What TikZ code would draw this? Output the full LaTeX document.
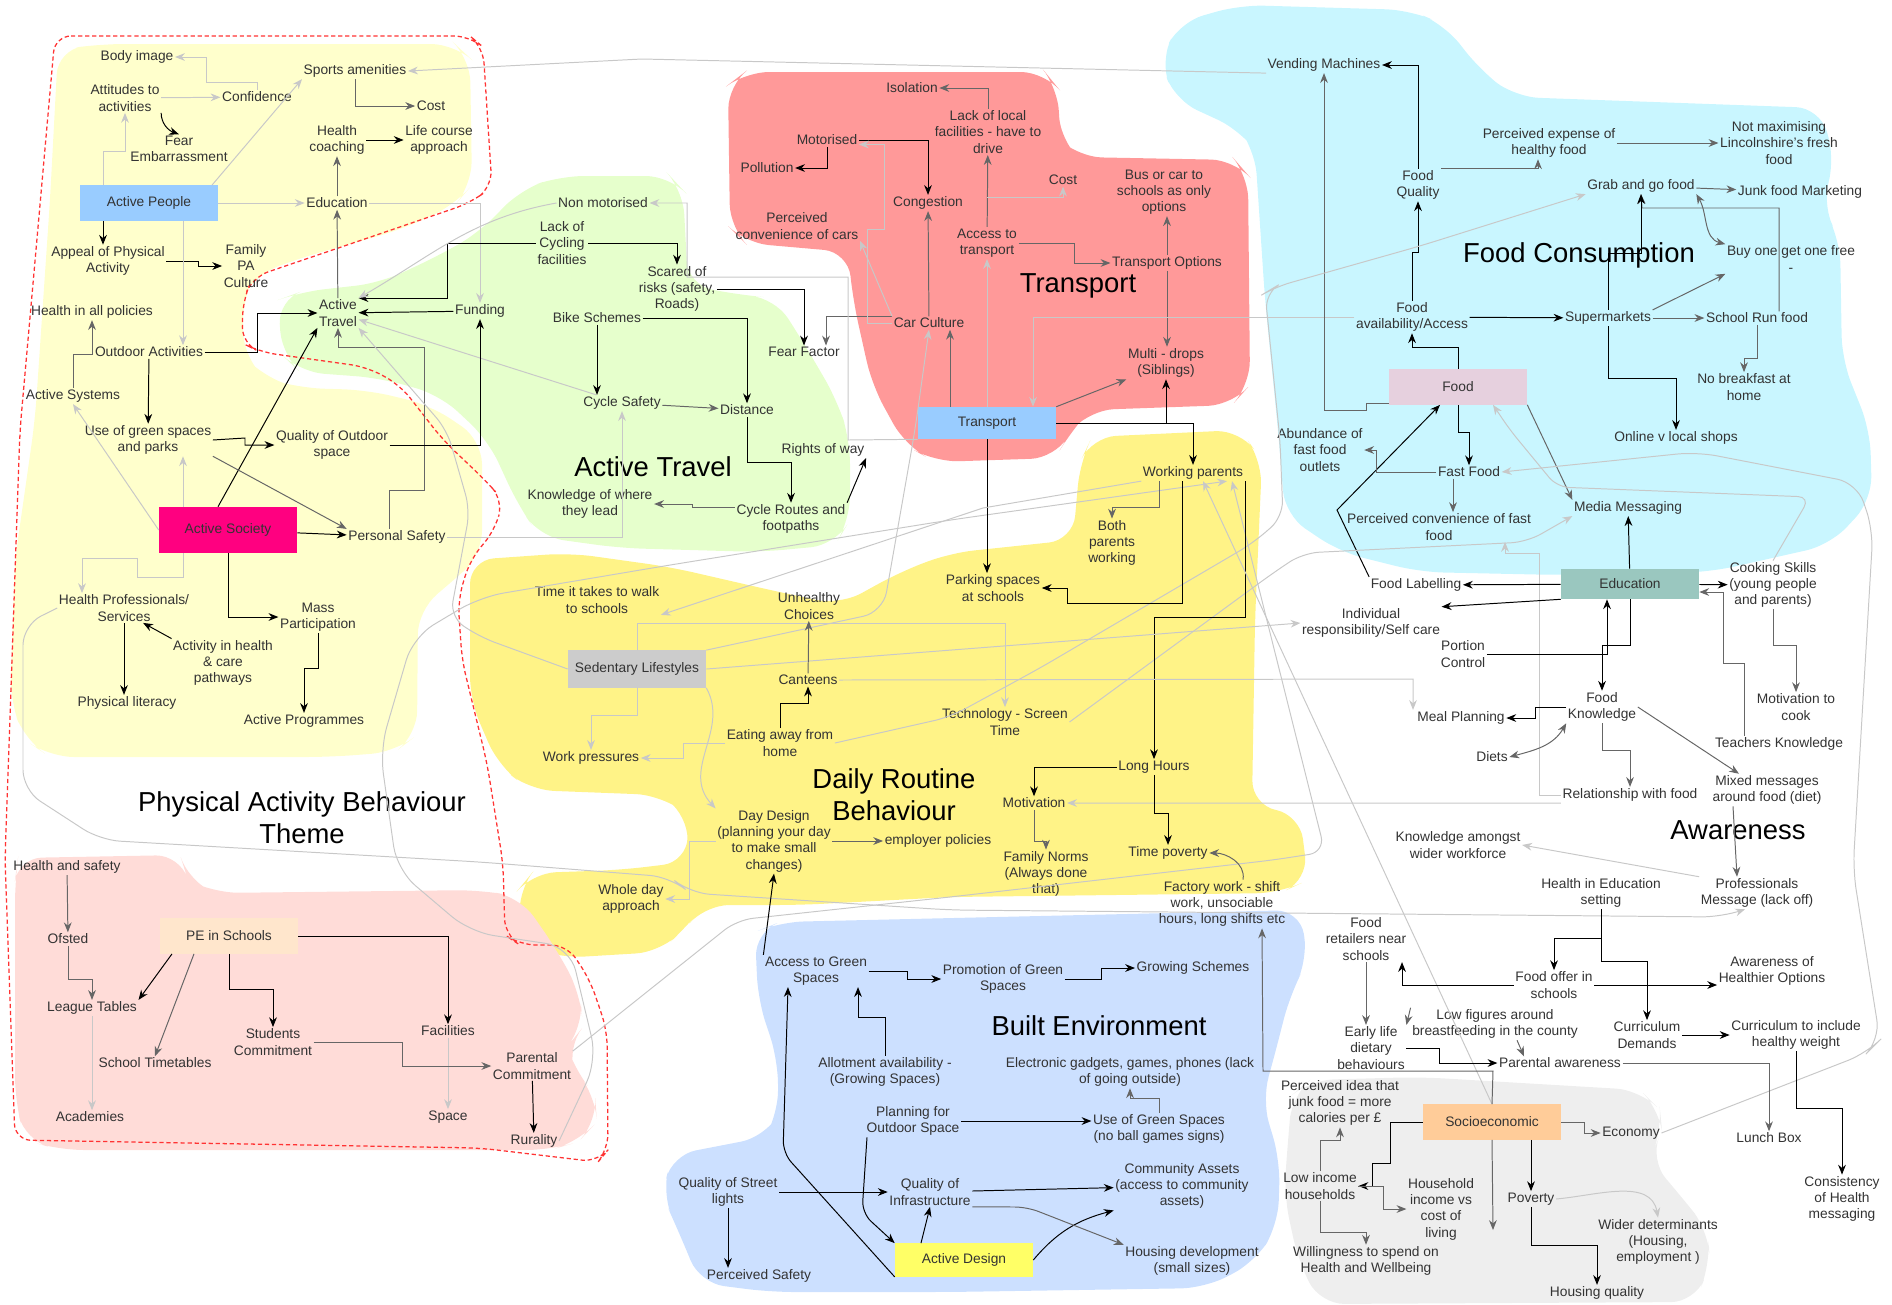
\documentclass[tikz,border=0pt]{standalone}
\usepackage{fontspec}
\setmainfont{Liberation Sans}
\usetikzlibrary{arrows.meta}
\definecolor{paback}{HTML}{FFFFCC}
\definecolor{atback}{HTML}{E6FFCC}
\definecolor{trback}{HTML}{FF9999}
\definecolor{fcback}{HTML}{C9F6FF}
\definecolor{drback}{HTML}{FFF387}
\definecolor{beback}{HTML}{CCE0FF}
\definecolor{peback}{HTML}{FFDCD8}
\definecolor{seback}{HTML}{EEEEEE}
\definecolor{fillblue}{HTML}{99CCFF}
\definecolor{fillpink}{HTML}{FF0080}
\definecolor{fillgrey}{HTML}{CCCCCC}
\definecolor{fillfood}{HTML}{E6D0DE}
\definecolor{filledu}{HTML}{9AC7BF}
\definecolor{fillpe}{HTML}{FFE6CC}
\definecolor{filldesign}{HTML}{FFFF66}
\definecolor{fillsocio}{HTML}{FFCC99}
\definecolor{darkline}{HTML}{666666}
\definecolor{lightline}{HTML}{C8C8C8}
\definecolor{borderred}{HTML}{FF3333}
\newcommand{\boxwidth}{3.45cm}
\newcommand{\lblfont}{\fontsize{9.8}{11.6}\selectfont}
\newcommand{\themefont}{\fontsize{19.5}{22.5}\selectfont}
\tikzset{
    lbl/.style = { align=center, inner sep=1pt,
        font=\lblfont, text=black!80
    },
    theme/.style = { align=center, inner sep=0pt,
        font=\themefont
    },
    cbox/.style = { rectangle, align=center,
        minimum width = \boxwidth,
        minimum height = 0.88cm,
        font=\lblfont, text=black!80
    },
    blob/.style = { rounded corners=0.6cm },
    region/.style = { draw=borderred, dash pattern=on 3pt off 2pt,
        line width=0.9pt, rounded corners=0.4cm
    },
    blk/.style = { draw=black, line width=0.7pt,
        -{Stealth[length=7pt,width=5.5pt]}
    },
    dgr/.style = { draw=darkline, line width=0.7pt,
        -{Stealth[length=7pt,width=5.5pt]}
    },
    lgr/.style = { draw=lightline, line width=0.7pt,
        -{Stealth[length=7pt,width=5.5pt]}
    },
    bidir/.style = { {Stealth[length=7pt,width=5.5pt]}-{Stealth[length=7pt,width=5.5pt]} }
}
\begin{document}
\begin{tikzpicture}[x=0.025cm, y=-0.025cm]
        \useasboundingbox (0,0) rectangle (1892,1304);

        % background blobs...
        \fill[paback, blob] (58,50) -- (100,44) -- (455,44) -- (470,58) -- (472,185) -- (455,205) -- (400,230) -- (300,258) -- (255,275) -- (243,295) -- (243,355) -- (265,378) -- (300,388) -- (367,390) -- (430,405) -- (482,440) -- (482,555) -- (440,592) -- (418,610) -- (417,735) -- (395,752) -- (330,757) -- (50,757) -- (25,740) -- (10,700) -- (15,560) -- (35,420) -- (50,200) -- cycle;
        \fill[atback, blob] (278,300) -- (300,292) -- (380,283) -- (440,255) -- (480,232) -- (520,190) -- (560,176) -- (670,176) -- (683,190) -- (688,285) -- (740,295) -- (775,298) -- (805,345) -- (837,400) -- (850,440) -- (850,520) -- (835,545) -- (760,552) -- (620,548) -- (540,537) -- (518,505) -- (488,440) -- (440,395) -- (380,378) -- (300,372) -- (282,355) -- cycle;
        \fill[trback, blob] (728,85) -- (745,72) -- (1045,72) -- (1058,88) -- (1060,140) -- (1078,157) -- (1235,160) -- (1248,175) -- (1250,385) -- (1232,405) -- (1090,410) -- (1072,430) -- (1055,458) -- (935,462) -- (905,445) -- (872,385) -- (853,300) -- (848,252) -- (745,243) -- (730,228) -- cycle;
        \fill[fcback, blob] (1160,60) -- (1180,22) -- (1240,5) -- (1410,10) -- (1445,25) -- (1480,70) -- (1515,97) -- (1820,108) -- (1835,160) -- (1822,205) -- (1840,240) -- (1842,360) -- (1870,430) -- (1872,500) -- (1830,545) -- (1710,572) -- (1560,575) -- (1420,572) -- (1340,552) -- (1285,515) -- (1278,430) -- (1265,300) -- (1255,150) -- (1240,130) -- (1175,100) -- cycle;
        \fill[drback, blob] (470,560) -- (570,553) -- (670,567) -- (770,590) -- (840,605) -- (900,572) -- (950,553) -- (1073,540) -- (1080,462) -- (1092,437) -- (1240,430) -- (1262,460) -- (1255,620) -- (1252,805) -- (1300,815) -- (1308,880) -- (1280,893) -- (950,897) -- (800,905) -- (705,905) -- (688,925) -- (660,952) -- (560,958) -- (522,945) -- (518,890) -- (532,873) -- (620,870) -- (687,862) -- (688,815) -- (660,795) -- (530,790) -- (498,765) -- (470,700) -- cycle;
        \fill[beback, blob] (755,932) -- (780,922) -- (1300,910) -- (1308,960) -- (1290,995) -- (1272,1065) -- (1262,1100) -- (1280,1160) -- (1278,1225) -- (1255,1262) -- (1205,1288) -- (950,1292) -- (770,1292) -- (700,1283) -- (678,1230) -- (662,1195) -- (672,1155) -- (765,1137) -- (778,1115) -- (778,1060) -- (758,1000) -- cycle;
        \fill[peback, blob] (18,858) -- (180,855) -- (188,880) -- (215,893) -- (480,890) -- (520,897) -- (557,950) -- (580,993) -- (583,1027) -- (567,1047) -- (573,1067) -- (595,1095) -- (597,1122) -- (578,1142) -- (550,1150) -- (60,1150) -- (25,1140) -- (15,1100) -- (15,880) -- cycle;
        \fill[seback, blob] (1288,1140) -- (1292,1095) -- (1310,1080) -- (1420,1077) -- (1640,1090) -- (1660,1110) -- (1662,1130) -- (1650,1160) -- (1680,1195) -- (1708,1230) -- (1710,1265) -- (1695,1302) -- (1320,1304) -- (1298,1260) -- (1284,1195) -- cycle;

        % theme border...
        \draw[region] (55,36) -- (470,36) -- (483,47) -- (492,187) -- (470,203) -- (353,243) -- (253,277) -- (243,300) -- (242,343) -- (260,352) -- (367,367) -- (400,385) -- (443,440) -- (485,480) -- (503,500) -- (495,530) -- (470,560) -- (458,600) -- (462,660) -- (487,763) -- (503,863) -- (505,935) -- (520,945) -- (567,945) -- (590,980) -- (607,1030) -- (608,1150) -- (598,1162) -- (480,1148) -- (15,1140) -- (5,860) -- (20,430) -- cycle;

        % titles...
        \node[theme] (patitle) at (302,818) {Physical Activity Behaviour\\Theme};
        \node[theme] (attitle) at (653,467) {Active Travel};
        \node[theme] (trtitle) at (1078,286) {Transport};
        \node[theme] (fctitle) at (1579,255) {Food Consumption};
        \node[theme] (drtitle) at (894,795) {Daily Routine\\Behaviour};
        \node[theme] (betitle) at (1099,1026) {Built Environment};
        \node[theme] (awtitle) at (1738,830) {Awareness};

        % physical activity nodes...
        \node[lbl] (body) at (137,57) {Body image};
        \node[lbl] (sports) at (355,71) {Sports amenities};
        \node[lbl] (attit) at (125,98) {Attitudes to\\activities};
        \node[lbl] (conf) at (257,97) {Confidence};
        \node[lbl] (pacost) at (431,106) {Cost};
        \node[lbl] (fear) at (179,149) {Fear\\Embarrassment};
        \node[lbl] (coach) at (337,140) {Health\\coaching};
        \node[lbl] (life) at (439,140) {Life course\\approach};
        \node[cbox, fill=fillblue] (actpeople) at (149,203) {Active People};
        \node[lbl] (paedu) at (337,203) {Education};
        \node[lbl] (appeal) at (108,261) {Appeal of Physical\\Activity};
        \node[lbl] (family) at (246,266) {Family\\PA\\Culture};
        \node[lbl] (hiap) at (92,312) {Health in all policies};
        \node[lbl] (acttravel) at (338,313) {Active\\Travel};
        \node[lbl] (funding) at (480,311) {Funding};
        \node[lbl] (outdoor) at (149,352) {Outdoor Activities};
        \node[lbl] (actsys) at (73,396) {Active Systems};
        \node[lbl] (green) at (148,440) {Use of green spaces\\and parks};
        \node[lbl] (qoutdoor) at (332,445) {Quality of Outdoor\\space};
        \node[cbox, fill=fillpink, minimum height=1.15cm] (actsoc) at (228,530) {Active Society};
        \node[lbl] (persafe) at (397,537) {Personal Safety};
        \node[lbl] (hprof) at (124,608) {Health Professionals/\\Services};
        \node[lbl] (mass) at (318,617) {Mass\\Participation};
        \node[lbl] (pathways) at (223,663) {Activity in health\\\& care\\pathways};
        \node[lbl] (literacy) at (127,703) {Physical literacy};
        \node[lbl] (actprog) at (304,721) {Active Programmes};

        % pe in schools nodes...
        \node[lbl] (hsafety) at (67,867) {Health and safety};
        \node[lbl] (ofsted) at (68,939) {Ofsted};
        \node[cbox, fill=fillpe] (pebox) at (229,936) {PE in Schools};
        \node[lbl] (league) at (92,1008) {League Tables};
        \node[lbl] (timetab) at (155,1063) {School Timetables};
        \node[lbl] (students) at (273,1042) {Students\\Commitment};
        \node[lbl] (facil) at (448,1031) {Facilities};
        \node[lbl] (academ) at (90,1117) {Academies};
        \node[lbl] (space) at (448,1117) {Space};
        \node[lbl] (parental) at (532,1066) {Parental\\Commitment};
        \node[lbl] (rural) at (534,1141) {Rurality};

        % active travel nodes...
        \node[lbl] (nonmot) at (603,203) {Non motorised};
        \node[lbl] (lackcyc) at (562,243) {Lack of\\Cycling\\facilities};
        \node[lbl] (scared) at (677,289) {Scared of\\risks (safety,\\Roads)};
        \node[lbl] (bike) at (597,318) {Bike Schemes};
        \node[lbl] (fearf) at (804,352) {Fear Factor};
        \node[lbl] (cycsafe) at (622,403) {Cycle Safety};
        \node[lbl] (distance) at (747,410) {Distance};
        \node[lbl] (rights) at (823,450) {Rights of way};
        \node[lbl] (knowwhere) at (590,504) {Knowledge of where\\they lead};
        \node[lbl] (routes) at (791,519) {Cycle Routes and\\footpaths};

        % transport nodes...
        \node[lbl] (isol) at (912,88) {Isolation};
        \node[lbl] (motor) at (827,140) {Motorised};
        \node[lbl] (poll) at (767,168) {Pollution};
        \node[lbl] (lacklocal) at (988,132) {Lack of local\\facilities - have to\\drive};
        \node[lbl] (trcost) at (1063,180) {Cost};
        \node[lbl] (buscar) at (1164,192) {Bus or car to\\schools as only\\options};
        \node[lbl] (congest) at (928,203) {Congestion};
        \node[lbl] (percars) at (797,226) {Perceived\\convenience of cars};
        \node[lbl] (access) at (987,243) {Access to\\transport};
        \node[lbl] (tropt) at (1167,263) {Transport Options};
        \node[lbl] (carcult) at (929,323) {Car Culture};
        \node[lbl] (multi) at (1166,363) {Multi - drops\\(Siblings)};
        \node[cbox, fill=fillblue, minimum height=0.8cm] (trbox) at (987,423) {Transport};

        % food consumption nodes...
        \node[lbl] (vending) at (1324,65) {Vending Machines};
        \node[lbl] (foodq) at (1418,185) {Food\\Quality};
        \node[lbl] (expense) at (1549,143) {Perceived expense of\\healthy food};
        \node[lbl] (notmax) at (1779,143) {Not maximising\\Lincolnshire's fresh\\food};
        \node[lbl] (grab) at (1641,186) {Grab and go food};
        \node[lbl] (junk) at (1800,192) {Junk food Marketing};
        \node[lbl] (bogof) at (1791,259) {Buy one get one free\\-};
        \node[lbl] (foodavail) at (1412,317) {Food\\availability/Access};
        \node[lbl] (superm) at (1608,318) {Supermarkets};
        \node[lbl] (schoolrun) at (1757,318) {School Run food};
        \node[lbl] (nobreak) at (1744,387) {No breakfast at\\home};
        \node[cbox, fill=fillfood] (foodbox) at (1458,387) {Food};
        \node[lbl] (online) at (1676,438) {Online v local shops};
        \node[lbl] (abund) at (1320,450) {Abundance of\\fast food\\outlets};
        \node[lbl] (fastfood) at (1469,472) {Fast Food};
        \node[lbl] (media) at (1628,508) {Media Messaging};
        \node[lbl] (perfast) at (1439,527) {Perceived convenience of fast\\food};

        % awareness nodes...
        \node[lbl] (flabel) at (1416,585) {Food Labelling};
        \node[cbox, fill=filledu, minimum height=0.75cm] (edubox) at (1630,584) {Education};
        \node[lbl] (cooking) at (1773,585) {Cooking Skills\\(young people\\and parents)};
        \node[lbl] (indiv) at (1371,623) {Individual\\responsibility/Self care};
        \node[lbl] (portion) at (1463,654) {Portion\\Control};
        \node[lbl] (foodknow) at (1602,707) {Food\\Knowledge};
        \node[lbl] (meal) at (1461,718) {Meal Planning};
        \node[lbl] (motcook) at (1796,707) {Motivation to\\cook};
        \node[lbl] (teachers) at (1779,744) {Teachers Knowledge};
        \node[lbl] (diets) at (1492,757) {Diets};
        \node[lbl] (relation) at (1630,795) {Relationship with food};
        \node[lbl] (mixed) at (1767,790) {Mixed messages\\around food (diet)};
        \node[lbl] (knowwork) at (1458,845) {Knowledge amongst\\wider workforce};
        \node[lbl] (hiedu) at (1601,893) {Health in Education\\setting};
        \node[lbl] (profmsg) at (1757,893) {Professionals\\Message (lack off)};
        \node[lbl] (retailers) at (1366,939) {Food\\retailers near\\schools};
        \node[lbl] (foodoffer) at (1554,985) {Food offer in\\schools};
        \node[lbl] (awhealthy) at (1772,971) {Awareness of\\Healthier Options};
        \node[lbl] (lowfig) at (1495,1024) {Low figures around\\breastfeeding in the county};
        \node[lbl] (earlylife) at (1371,1048) {Early life\\dietary\\behaviours};
        \node[lbl] (currdem) at (1647,1035) {Curriculum\\Demands};
        \node[lbl] (currinc) at (1796,1035) {Curriculum to include\\healthy weight};
        \node[lbl] (parentaw) at (1560,1063) {Parental awareness};

        % socioeconomic nodes...
        \node[lbl] (perjunk) at (1340,1103) {Perceived idea that\\junk food = more\\calories per £};
        \node[cbox, fill=fillsocio] (sebox) at (1492,1122) {Socioeconomic};
        \node[lbl] (economy) at (1631,1133) {Economy};
        \node[lbl] (lunch) at (1769,1138) {Lunch Box};
        \node[lbl] (lowinc) at (1320,1186) {Low income\\households};
        \node[lbl] (household) at (1441,1209) {Household\\income vs\\cost of\\living};
        \node[lbl] (poverty) at (1531,1199) {Poverty};
        \node[lbl] (consist) at (1842,1199) {Consistency\\of Health\\messaging};
        \node[lbl] (wider) at (1658,1242) {Wider determinants\\(Housing,\\employment )};
        \node[lbl] (willing) at (1366,1261) {Willingness to spend on\\Health and Wellbeing};
        \node[lbl] (housingq) at (1597,1293) {Housing quality};
        \coordinate (sedown) at (1493,1230);

        % daily routine nodes...
        \node[lbl] (walk) at (597,600) {Time it takes to walk\\to schools};
        \node[lbl] (unhealthy) at (809,606) {Unhealthy\\Choices};
        \node[cbox, fill=fillgrey, minimum height=0.93cm] (sedbox) at (637,669) {Sedentary Lifestyles};
        \node[lbl] (canteens) at (808,680) {Canteens};
        \node[lbl] (workpress) at (591,758) {Work pressures};
        \node[lbl] (eating) at (780,743) {Eating away from\\home};
        \node[lbl] (daydesign) at (774,841) {Day Design\\(planning your day\\to make small\\changes)};
        \node[lbl] (employer) at (938,841) {employer policies};
        \node[lbl] (wholeday) at (631,899) {Whole day\\approach};
        \node[lbl] (wparents) at (1193,473) {Working parents};
        \node[lbl] (bothpar) at (1112,543) {Both\\parents\\working};
        \node[lbl] (parking) at (993,588) {Parking spaces\\at schools};
        \node[lbl] (tech) at (1005,722) {Technology - Screen\\Time};
        \node[lbl] (longh) at (1154,767) {Long Hours};
        \node[lbl] (motiv) at (1034,803) {Motivation};
        \node[lbl] (timepov) at (1168,853) {Time poverty};
        \node[lbl] (famnorms) at (1046,874) {Family Norms\\(Always done\\that)};
        \node[lbl] (factory) at (1222,904) {Factory work - shift\\work, unsociable\\hours, long shifts etc};

        % built environment nodes...
        \node[lbl] (accgreen) at (816,971) {Access to Green\\Spaces};
        \node[lbl] (promo) at (1003,979) {Promotion of Green\\Spaces};
        \node[lbl] (growing) at (1193,968) {Growing Schemes};
        \node[lbl] (allot) at (885,1072) {Allotment availability -\\(Growing Spaces)};
        \node[lbl] (gadgets) at (1130,1072) {Electronic gadgets, games, phones (lack\\of going outside)};
        \node[lbl] (planning) at (913,1121) {Planning for\\Outdoor Space};
        \node[lbl] (usegreen) at (1159,1129) {Use of Green Spaces\\(no ball games signs)};
        \node[lbl] (qstreet) at (728,1192) {Quality of Street\\lights};
        \node[lbl] (qinfra) at (930,1192) {Quality of\\Infrastructure};
        \node[lbl] (community) at (1182,1186) {Community Assets\\(access to community\\assets)};
        \node[lbl] (housingdev) at (1192,1261) {Housing development\\(small sizes)};
        \node[lbl] (psafety) at (759,1276) {Perceived Safety};
        \node[cbox, fill=filldesign, minimum height=0.83cm] (adbox) at (964,1260) {Active Design};

        % physical activity arrows...
        \draw[lgr] (conf.north) |- (206,82) |- (body);
        \draw[lgr] (attit) -- (conf);
        \draw[blk] (attit.south east) to[out=-90,in=160] (fear.north);
        \draw[lgr] (103,0 |- actpeople.north) -- (103,151) -| (attit.south);
        \draw[lgr] (212,0 |- actpeople.north) -- (sports.south west);
        \draw[dgr] (sports.south) |- (pacost.west);
        \draw[blk] (coach) -- (life);
        \draw[dgr] (paedu) -- (coach);
        \draw[lgr] (actpeople) -- (paedu);
        \draw[lgr] (paedu.east) -| (funding.north);
        \draw[blk] (103,0 |- actpeople.south) -- (103,0 |- appeal.north);
        \draw[blk] (appeal.east) -- (198,261) |- (family.west);
        \draw[lgr] (183,0 |- actpeople.south) -- (183,0 |- outdoor.north);
        \draw[dgr] (acttravel) -- (paedu);
        \draw[blk] (outdoor.east) -- (257,352) |- (acttravel.west);
        \draw[dgr] (actsys.north) -- (73,354) -| (hiap.south);
        \draw[blk] (outdoor) -- (green);
        \draw[blk] (lackcyc.west) -- (447,243) |- (acttravel.north east);
        \draw[blk] (funding) -- (acttravel);
        \draw[lgr] (cycsafe) -- (acttravel);
        \draw[lgr] (nonmot.west) to[out=190,in=30] (acttravel.north east);
        \draw[dgr] (389,0 |- persafe.north) -- (389,490) -- (424,490) -- (424,347) -| (acttravel.south);
        \draw[blk] (qoutdoor.east) -| (funding.south);
        \draw[blk] (218,0 |- actsoc.north) -- (acttravel.south west);
        \draw[blk] (green.east) -- (245,438) |- (qoutdoor.west);
        \draw[dgr] (green.south east) -- (persafe.north west);
        \draw[blk] (actsoc) -- (persafe);
        \draw[lgr] (actsoc.west) -- (actsys.south);
        \draw[lgr] (183,0 |- actsoc.north) -- (183,0 |- green.south);
        \draw[lgr] (183,0 |- actsoc.south) -- (183,577) -- (137,577) -- (137,558) -| (82,0 |- hprof.north);
        \draw[blk] (actsoc.south) |- (mass.west);
        \draw[blk] (mass.south) -- (318,668) -| (actprog.north);
        \draw[blk] (hprof.south) -- (hprof.south |- literacy.north);
        \draw[blk] (pathways.north west) -- (hprof.-38);
        \draw[lgr, rounded corners=0.5cm] (hprof.west) -- (23,625) -- (23,790) -- (100,840) -- (480,862) -- (670,877) -- (690,893) -- (950,910) -- (1722,917) -- (1745,0 |- profmsg.south);

        % pe in schools arrows...
        \draw[dgr] (hsafety) -- (ofsted);
        \draw[dgr] (ofsted.south) -- (68,979) -| (league.north);
        \draw[blk] (172,0 |- pebox.south) -- (league.north east);
        \draw[dgr] (194,0 |- pebox.south) -- (timetab.north);
        \draw[blk] (pebox.south) -- (229,989) -| (students.north);
        \draw[blk] (pebox.east) -| (facil.north);
        \draw[lgr] (league.south) -- (league.south |- academ.north);
        \draw[lgr] (facil) -- (space);
        \draw[dgr] (students.east) -- (402,1042) |- (parental.west);
        \draw[blk] (parental) -- (rural);
        \draw[lgr, rounded corners=0.6cm] (rural.east) -- (597,1060) -- (570,947) -- (470,932) -- (397,870) -- (380,750) -- (413,637) -- (480,597) -- (670,565) -- (950,520) -- (1227,0 |- wparents.south);
        \draw[lgr, rounded corners=0.4cm] (parental.north east) -- (737,920) -- (950,897) -- (1273,860) -- (1325,852) -- (1232,0 |- wparents.south);

        % active travel arrows...
        \draw[blk] (lackcyc.east) -| (scared.north);
        \draw[blk] (scared.east) -| (fearf.north);
        \draw[dgr] (carcult.north west) -| (826,0 |- fearf.north);
        \draw[blk] (bike.south) -- (bike.south |- cycsafe.north);
        \draw[blk] (bike.east) -| (distance.north);
        \draw[dgr] (cycsafe) -- (distance);
        \draw[blk] (distance.south) -- (747,462) -| (routes.north);
        \draw[blk] (routes.north east) -- (rights.south east);
        \draw[dgr] (routes.west |- 0,507) -- (692,507) |- (knowwhere.east);
        \draw[lgr] (persafe.east) -| (cycsafe.south);
        \draw[lgr] (trbox.south west) -- (848,440) -- (848,277) -- (687,277) |- (nonmot.east);

        % transport arrows...
        \draw[blk] (motor.south) |- (poll.east);
        \draw[blk] (motor.east) -| (congest.north);
        \draw[lgr] (carcult.west) -- (867,323) -- (867,229) -- (884,229) |- (motor.-8);
        \draw[lgr] (carcult.north west) -- (percars.south east);
        \draw[dgr] (carcult) -- (congest);
        \draw[dgr] (950,0 |- trbox.north) -- (950,0 |- carcult.south);
        \draw[lgr] (trbox) -- (access);
        \draw[dgr] (access) -- (lacklocal);
        \draw[dgr] (lacklocal.north) |- (isol.east);
        \draw[lgr] (access.north |- 0,197) -| (trcost.south);
        \draw[dgr] (access.east) -- (1074,243) |- (tropt.west);
        \draw[dgr] (tropt.north) -- (tropt.north |- buscar.south);
        \draw[dgr] (tropt.south) -- (tropt.south |- multi.north);
        \draw[dgr] (trbox.north east) -- (multi.south west);
        \draw[blk] (trbox.east) -| (multi.south);
        \draw[blk] (trbox.east) -| (wparents.north);
        \draw[blk] (trbox.south) -- (trbox.south |- parking.north);
        \draw[lgr] (foodavail.west) -| (1033,0 |- trbox.north);
        \draw[lgr] (vending.south west) -- (642,59) -- (sports.east);

        % food consumption arrows...
        \draw[blk] (foodq.north) |- (vending.east);
        \draw[dgr] (foodbox.west |- 0,403) -- (1366,403) -- (1366,410) -| (vending.south);
        \draw[dgr] (foodq.north east) -- (1538,0 |- foodq.north east) -- (1538,0 |- expense.south);
        \draw[dgr] (expense) -- (notmax);
        \draw[dgr] (grab) -- (junk);
        \draw[dgr, bidir] (grab.south east) to[out=-60,in=165] (bogof.north west);
        \draw[dgr] (1779,0 |- schoolrun.north) |- (1642,208) -- (grab.south);
        \draw[blk] (superm.north) -- (1608,253) -| (grab.south);
        \draw[dgr] (superm.north east) -- (bogof.south west);
        \draw[dgr] (superm) -- (schoolrun);
        \draw[blk] (superm.south) -- (1608,378) -| (online.north);
        \draw[dgr] (schoolrun.south) -- (1757,358) -| (nobreak.north);
        \draw[blk] (foodavail) -- (superm);
        \draw[blk] (foodavail.north) -- (1412,252) -| (foodq.south);
        \draw[blk] (foodbox.north) -- (1458,347) -| (foodavail.south);
        \draw[blk] (foodbox.south) -- (1458,432) -| (fastfood.north);
        \draw[dgr] (foodbox.south east) -- (media.north west);
        \draw[blk] (flabel.north west) -- (1337,510) -- (1440,0 |- foodbox.south);
        \draw[lgr, rounded corners=0.3cm] (cooking.north) -- (1810,497) -- (1557,487) -- (1510,430) -- (1493,0 |- foodbox.south);
        \draw[dgr] (fastfood.west) -- (1376,472) |- (abund.east);
        \draw[dgr] (1453,0 |- fastfood.south) -- (1453,0 |- perfast.north);
        \draw[lgr, rounded corners=0.5cm] (economy.east) -- (1867,1053) -- (1880,1040) -- (1853,870) -- (1873,530) -- (1857,483) -- (1697,452) -- (fastfood.east);
        \draw[lgr] (relation.west) -- (1539,795) -- (1539,553) -- (1505,553) -- (1505,0 |- perfast.south);
        \draw[lgr] (relation.south west) -- (motiv.east);
        \draw[lgr, rounded corners=0.4cm] (tech.east) -- (1273,573) -- (1303,553) -- (1527,542) -- (media.south west);
        \draw[lgr, rounded corners=0.4cm] (eating.east) -- (950,717) -- (1040,668) -- (1253,543) -- (1283,517) -- (1280,440) -- (1265,293) -- (1275,287) -- (1420,246) -- (grab.south west);

        % daily routine arrows...
        \draw[dgr] (1159,0 |- wparents.south) -- (1159,507) -| (bothpar.north);
        \draw[blk] (1182,0 |- wparents.south) -- (1182,603) -- (1067,603) |- (parking.east);
        \draw[blk] (1245,0 |- wparents.south) -- (1245,617) -| (longh.north);
        \draw[blk] (longh.west) -| (motiv.north);
        \draw[blk] (longh.south) -- (1154,813) -| (timepov.north);
        \draw[dgr] (motiv.south) -- (1034,841) -| (famnorms.north);
        \draw[dgr] (1243,0 |- factory.north) to[out=80,in=0] (timepov.east);
        \draw[lgr] (sebox.north) -- (1203,0 |- wparents.south);
        \draw[lgr] (wparents.south west) -- (983,508) -- (walk.south east);
        \draw[lgr] (sedbox.north) -- (637,623) -| (tech.north);
        \draw[lgr, rounded corners=0.4cm] (sedbox.west) -- (480,637) -- (450,617) -- (470,510) -- (447,430) -- (acttravel.south east);
        \draw[lgr] (sedbox.south) -- (637,715) -| (workpress.north);
        \draw[lgr] (sedbox.east) -- (indiv.west);
        \draw[lgr] (sedbox.south east) .. controls (730,730) and (680,770) .. (daydesign.north west);
        \draw[lgr, rounded corners=0.5cm] (sedbox.north east) -- (883,612) -- (915,430) -- (carcult.south);
        \draw[dgr] (canteens) -- (unhealthy);
        \draw[blk] (eating.north) -- (780,703) -| (canteens.south);
        \draw[lgr] (eating.west) -- (683,743) |- (workpress.east);
        \draw[lgr] (canteens.east) -- (1413,679) -- (1413,0 |- meal.north);
        \draw[dgr] (daydesign.east) -- (employer.west);
        \draw[lgr] (daydesign.west) -- (689,841) |- (wholeday.east);
        \draw[blk] (accgreen.north west) -- (daydesign.south);

        % built environment arrows...
        \draw[blk] (accgreen.east) -- (907,971) |- (promo.west);
        \draw[blk] (promo.east) -- (1101,979) |- (growing.west);
        \draw[blk] (allot.north) |- (858,1017) -- (858,0 |- accgreen.south);
        \draw[dgr] (usegreen.north) -- (1159,1098) -| (gadgets.south);
        \draw[blk] (planning.east) -- (planning.east -| usegreen.west);
        \draw[blk, rounded corners=0.3cm] (867,0 |- planning.south) -- (862,1213) -- (adbox.north west);
        \draw[blk, rounded corners=0.3cm] (adbox.south west) -- (783,1153) -- (788,0 |- accgreen.south);
        \draw[blk] (921,0 |- adbox.north) -- (qinfra.south);
        \draw[blk] (adbox.east) to[out=50,in=195] (community.south west);
        \draw[blk] (qstreet) -- (qinfra);
        \draw[blk] (qstreet.south) -- (qstreet.south |- psafety.north);
        \draw[blk] (qinfra) -- (community);
        \draw[dgr, rounded corners=0.3cm] (qinfra.south east) -- (1027,1207) -- (housingdev.north west);

        % awareness arrows...
        \draw[blk] (edubox) -- (media);
        \draw[blk] (edubox) -- (flabel);
        \draw[blk] (edubox.south west) -- (indiv.north east);
        \draw[blk] (portion.east) -| (1607,0 |- edubox.south);
        \draw[blk] (edubox.south) -- (1630,645) -| (foodknow.north);
        \draw[blk] (edubox) -- (cooking);
        \draw[dgr] (1744,0 |- teachers.north) -- (1744,663) -- (1723,663) |- ([yshift=-0.2cm]edubox.east);
        \draw[dgr] (cooking.south) -- (1773,645) -| (motcook.north);
        \draw[blk] (foodknow.west) -- (1535,707) |- (meal.east);
        \draw[dgr, bidir] (foodknow.south west) to[out=-120,in=15] (diets.east);
        \draw[dgr] (foodknow.south) -- (1602,750) -| (relation.north);
        \draw[dgr] (foodknow.east) -- ([xshift=-0.7cm]mixed.north);
        \draw[dgr] ([xshift=-0.85cm]mixed.south) -- ([xshift=-0.5cm]profmsg.north);
        \draw[lgr] (profmsg.north west) -- (knowwork.east);
        \draw[blk] (hiedu.south) -- (1601,938) -| (foodoffer.north);
        \draw[blk] (hiedu.south) -- (1601,961) -| (currdem.north);
        \draw[blk] (foodoffer.east) -- (foodoffer.east -| awhealthy.west);
        \draw[blk] (foodoffer.west) -| ([xshift=0.9cm]retailers.south);
        \draw[blk] (currdem) -- (currinc);
        \draw[blk] (currinc.south) -- (1796,1108) -| (consist.north);
        \draw[dgr] (parentaw.east) -| (lunch.north);
        \draw[blk] (earlylife.east) -- (1439,1048) |- (parentaw.west);
        \draw[dgr] ([xshift=0.55cm]lowfig.south) -- ([xshift=-0.9cm]parentaw.north);
        \draw[dgr] (lowfig.north west) -- (earlylife.north east);
        \draw[dgr] (retailers.south) -- (retailers.south |- earlylife.north);

        % socioeconomic arrows...
        \draw[dgr] (sebox.east) -- (1584,1122) |- (economy.west);
        \draw[blk] (poverty.north |- sebox.south) -- (poverty.north);
        \draw[blk] (poverty.south) -- (1531,1245) -| (housingq.north);
        \draw[lgr] (poverty.east) to[out=5,in=100] (wider.north);
        \draw[dgr] (sebox.south) -- (sedown);
        \draw[blk] (sebox.west) -- (1390,1122) -- (1390,1163) -- (1372,1163) |- (lowinc.east);
        \draw[dgr] (lowinc.east) -- (1383,1186) |- (household.west);
        \draw[dgr] (lowinc.north) -- (1320,1140) -| (perjunk.south);
        \draw[dgr] (lowinc.south) -- (1320,1232) -| (willing.north);
        \draw[dgr] (sebox.north) -- (1493,1071) -- (1263,1071) -- ([xshift=1cm]factory.south);
\end{tikzpicture}
\end{document}
